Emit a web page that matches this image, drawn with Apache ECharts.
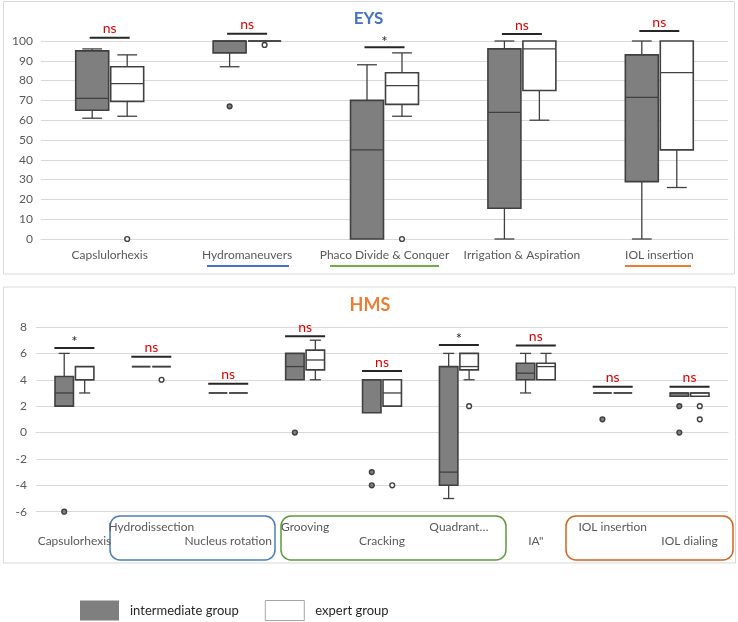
<!DOCTYPE html>
<html>
<head>
<meta charset="utf-8">
<script src="https://cdn.jsdelivr.net/npm/echarts@6/dist/echarts.min.js"></script>
<style>
html,body{margin:0;padding:0;background:#fff;}
#chart{width:738px;height:622px;}
</style>
</head>
<body>
<div id="chart"></div>
<script>
// ---------- EYS (top) ----------
const eysCategories = ['Capslulorhexis', 'Hydromaneuvers', 'Phaco Divide & Conquer', 'Irrigation & Aspiration', 'IOL insertion'];
// [min, q1, median, q3, max]
const eysIntermediate = [[61, 65, 71, 95, 96], [87, 94, 100, 100, 100], [0, 0, 45, 70, 88], [0, 15.5, 64, 96, 100], [0, 29, 71.5, 93, 100]];
const eysExpert = [[62, 69.5, 78.5, 87, 93], [100, 100, 100, 100, 100], [62, 68, 77.5, 84, 94], [60, 75, 96, 100, 100], [26, 45, 84, 100, 100]];
// [category index, value]
const eysIntermediateOutliers = [[1, 67]];
const eysExpertOutliers = [[0, 0], [1, 98], [2, 0]];
// [category index, bracket level, label]
const eysSignificance = [[0, 101.7, 'ns'], [1, 103.7, 'ns'], [2, 96.8, '*'], [3, 103.5, 'ns'], [4, 105, 'ns']];
const eysTicks = { min: 0, max: 100, interval: 10 };

// ---------- HMS (bottom) ----------
const hmsCategories = ['Capsulorhexis', 'Hydrodissection', 'Nucleus rotation', 'Grooving', 'Cracking', 'Quadrant…', 'IA"', 'IOL insertion', 'IOL dialing'];
const hmsIntermediate = [[2, 2, 3, 4.25, 6], [5, 5, 5, 5, 5], [3, 3, 3, 3, 3], [4, 4, 5, 6, 6], [1.5, 1.5, 4, 4, 4], [-5, -4, -3, 5, 6], [3, 4, 4.5, 5.25, 6], [3, 3, 3, 3, 3], [2.75, 2.75, 3, 3, 3]];
const hmsExpert = [[3, 4, 4, 5, 5], [5, 5, 5, 5, 5], [3, 3, 3, 3, 3], [4, 4.75, 5.5, 6.25, 7], [2, 2, 3, 4, 4], [4, 4.75, 5, 6, 6], [4, 4, 5, 5.25, 6], [3, 3, 3, 3, 3], [2.75, 2.75, 3, 3, 3]];
const hmsIntermediateOutliers = [[0, -6], [3, 0], [4, -3], [4, -4], [7, 1], [8, 2], [8, 0]];
const hmsExpertOutliers = [[1, 4], [4, -4], [5, 2], [8, 2], [8, 1]];
const hmsSignificance = [[0, 6.4, '*'], [1, 5.75, 'ns'], [2, 3.7, 'ns'], [3, 7.3, 'ns'], [4, 4.66, 'ns'], [5, 6.63, '*'], [6, 6.6, 'ns'], [7, 3.47, 'ns'], [8, 3.47, 'ns']];
const hmsTicks = { min: -6, max: 8, interval: 2 };

const seriesNames = ['intermediate group', 'expert group'];

// ---------- styles ----------
const FONT = 'Lato, "Open Sans", sans-serif';
const DARK = '#404040';
const GRAY_FILL = '#7f7f7f';
const GRID_LINE = '#d9d9d9';
const LABEL = '#595959';

function boxData(arr) { return arr.map((d, i) => [i].concat(d)); }

function boxRenderer(sign, fill) {
  return function (params, api) {
    const cat = api.value(0);
    const mn = api.value(1), q1 = api.value(2), med = api.value(3), q3 = api.value(4), mx = api.value(5);
    const band = api.size([1, 0])[0];
    const bw = band * 0.24;
    const cx = api.coord([cat, 0])[0] + sign * (bw / 2 + 1);
    const y = v => api.coord([cat, v])[1];
    const cap = bw * 0.3;
    const ls = { stroke: DARK, lineWidth: 1.3 };
    const ch = [];
    if (mx > q3) {
      ch.push({ type: 'line', shape: { x1: cx, y1: y(q3), x2: cx, y2: y(mx) }, style: ls });
      ch.push({ type: 'line', shape: { x1: cx - cap, y1: y(mx), x2: cx + cap, y2: y(mx) }, style: ls });
    }
    if (mn < q1) {
      ch.push({ type: 'line', shape: { x1: cx, y1: y(q1), x2: cx, y2: y(mn) }, style: ls });
      ch.push({ type: 'line', shape: { x1: cx - cap, y1: y(mn), x2: cx + cap, y2: y(mn) }, style: ls });
    }
    ch.push({ type: 'rect', shape: { x: cx - bw / 2, y: y(q3), width: bw, height: y(q1) - y(q3) },
      style: { fill: fill, stroke: DARK, lineWidth: 1.6 } });
    ch.push({ type: 'line', shape: { x1: cx - bw / 2, y1: y(med), x2: cx + bw / 2, y2: y(med) },
      style: { stroke: DARK, lineWidth: 1.3 } });
    return { type: 'group', children: ch };
  };
}

function outlierRenderer(sign, fill) {
  return function (params, api) {
    const cat = api.value(0);
    const band = api.size([1, 0])[0];
    const bw = band * 0.24;
    const p = api.coord([cat, api.value(1)]);
    return { type: 'circle', shape: { cx: p[0] + sign * (bw / 2 + 1), cy: p[1], r: 2.4 },
      style: { fill: fill, stroke: DARK, lineWidth: 1.4 } };
  };
}

function sigRenderer(params, api) {
  const cat = api.value(0);
  const p = api.coord([cat, api.value(1)]);
  const label = api.value(2);
  const isNs = label === 'ns';
  return { type: 'group', children: [
    { type: 'line', shape: { x1: p[0] - 20, y1: p[1], x2: p[0] + 20, y2: p[1] }, style: { stroke: '#262626', lineWidth: 2 } },
    { type: 'text', style: { text: label, x: p[0], y: isNs ? p[1] - 2 : p[1] + 2, align: 'center', verticalAlign: 'bottom',
      fill: isNs ? '#e00000' : '#262626', fontSize: isNs ? 14 : 15, fontFamily: FONT } }
  ] };
}

function makeSeries(gi, inter, expert, interOut, expertOut, sig) {
  return [
    { name: seriesNames[0], type: 'custom', xAxisIndex: gi, yAxisIndex: gi, clip: false, renderItem: boxRenderer(-1, GRAY_FILL),
      encode: { x: 0, y: [1, 2, 3, 4, 5] }, data: boxData(inter), itemStyle: { color: GRAY_FILL } },
    { name: seriesNames[1], type: 'custom', xAxisIndex: gi, yAxisIndex: gi, clip: false, renderItem: boxRenderer(1, '#ffffff'),
      encode: { x: 0, y: [1, 2, 3, 4, 5] }, data: boxData(expert), itemStyle: { color: '#ffffff' } },
    { name: seriesNames[0], type: 'custom', xAxisIndex: gi, yAxisIndex: gi, clip: false, renderItem: outlierRenderer(-1, GRAY_FILL),
      encode: { x: 0, y: 1 }, data: interOut, z: 3 },
    { name: seriesNames[1], type: 'custom', xAxisIndex: gi, yAxisIndex: gi, clip: false, renderItem: outlierRenderer(1, '#ffffff'),
      encode: { x: 0, y: 1 }, data: expertOut, z: 3 },
    { name: 'significance', type: 'custom', xAxisIndex: gi, yAxisIndex: gi, clip: false, renderItem: sigRenderer,
      encode: { x: 0, y: 1 }, data: sig, z: 4 }
  ];
}

const chart = echarts.init(document.getElementById('chart'), null, { renderer: 'canvas' });

const option = {
  animation: false,
  backgroundColor: '#ffffff',
  textStyle: { fontFamily: FONT },
  grid: [
    { left: 41, right: 10, top: 41, height: 198 },
    { left: 36, right: 10, top: 327, height: 184.7 }
  ],
  xAxis: [
    { type: 'category', gridIndex: 0, data: eysCategories, axisTick: { show: false },
      axisLine: { lineStyle: { color: GRID_LINE, width: 1 } },
      axisLabel: { color: LABEL, fontSize: 12, fontFamily: FONT, margin: 10, interval: 0 } },
    { type: 'category', gridIndex: 1, data: hmsCategories, axisTick: { show: false },
      axisLine: { lineStyle: { color: GRID_LINE, width: 1 } },
      axisLabel: { color: LABEL, fontSize: 12, fontFamily: FONT, margin: 8, interval: 0, lineHeight: 14,
        formatter: (v, i) => (i % 2 === 0 ? '\n' + v : v + '\n') } }
  ],
  yAxis: [
    { type: 'value', gridIndex: 0, min: eysTicks.min, max: eysTicks.max, interval: eysTicks.interval,
      axisLine: { show: false }, axisTick: { show: false },
      splitLine: { lineStyle: { color: GRID_LINE } },
      axisLabel: { color: LABEL, fontSize: 12, fontFamily: FONT, margin: 8 } },
    { type: 'value', gridIndex: 1, min: hmsTicks.min, max: hmsTicks.max, interval: hmsTicks.interval,
      axisLine: { show: false }, axisTick: { show: false },
      splitLine: { lineStyle: { color: GRID_LINE } },
      axisLabel: { color: LABEL, fontSize: 12, fontFamily: FONT, margin: 9 } }
  ],
  legend: {
    left: 80, top: 600, padding: 0, itemWidth: 39, itemHeight: 20, itemGap: 26, icon: 'rect',
    selectedMode: false,
    textStyle: { color: '#262626', fontSize: 13, fontFamily: FONT, padding: [0, 0, 0, 6] },
    data: [
      { name: seriesNames[0], itemStyle: { color: GRAY_FILL, borderWidth: 0 } },
      { name: seriesNames[1], itemStyle: { color: '#ffffff', borderColor: '#a6a6a6', borderWidth: 1 } }
    ]
  },
  graphic: [
    { type: 'rect', shape: { x: 3.5, y: 1.5, width: 731, height: 272.5 }, style: { fill: 'none', stroke: GRID_LINE, lineWidth: 1 }, z: -1 },
    { type: 'rect', shape: { x: 3.5, y: 287, width: 732, height: 276 }, style: { fill: 'none', stroke: GRID_LINE, lineWidth: 1 }, z: -1 },
    { type: 'text', x: 368.5, y: 19, style: { text: 'EYS', fill: '#4472c4', fontSize: 17, fontWeight: 'bold', fontFamily: FONT, align: 'center', verticalAlign: 'middle' } },
    { type: 'text', x: 370, y: 305, style: { text: 'HMS', fill: '#ed7d31', fontSize: 18, fontWeight: 'bold', fontFamily: FONT, align: 'center', verticalAlign: 'middle' } },
    { type: 'line', shape: { x1: 207, y1: 266, x2: 289, y2: 266 }, style: { stroke: '#4472c4', lineWidth: 2 } },
    { type: 'line', shape: { x1: 330, y1: 266, x2: 439, y2: 266 }, style: { stroke: '#70ad47', lineWidth: 2 } },
    { type: 'line', shape: { x1: 625, y1: 266, x2: 691, y2: 266 }, style: { stroke: '#ed7d31', lineWidth: 2 } },
    { type: 'rect', shape: { x: 110, y: 516, width: 165, height: 44, r: 10 }, style: { fill: 'none', stroke: '#4a7ebb', lineWidth: 1.5 } },
    { type: 'rect', shape: { x: 281, y: 516, width: 225, height: 44, r: 10 }, style: { fill: 'none', stroke: '#5f9a3c', lineWidth: 1.5 } },
    { type: 'rect', shape: { x: 566, y: 516, width: 167, height: 44, r: 10 }, style: { fill: 'none', stroke: '#d0651f', lineWidth: 1.5 } }
  ],
  series: [].concat(
    makeSeries(0, eysIntermediate, eysExpert, eysIntermediateOutliers, eysExpertOutliers, eysSignificance),
    makeSeries(1, hmsIntermediate, hmsExpert, hmsIntermediateOutliers, hmsExpertOutliers, hmsSignificance)
  )
};

chart.setOption(option);
</script>
</body>
</html>
